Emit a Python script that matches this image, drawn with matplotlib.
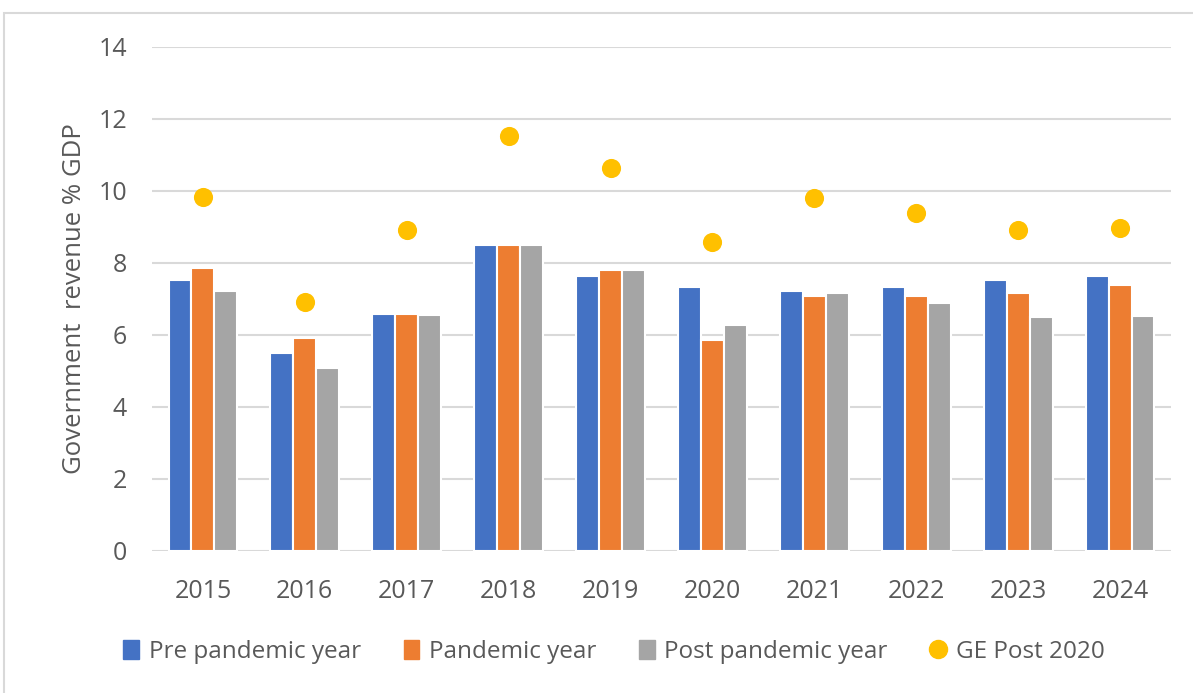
import matplotlib
matplotlib.use("Agg")
import matplotlib.pyplot as plt
import matplotlib.patches as mpatches
from matplotlib.lines import Line2D
import numpy as np

# data
years = ['2015', '2016', '2017', '2018', '2019', '2020', '2021', '2022', '2023', '2024']
pre_pandemic = [7.53, 5.49, 6.59, 8.49, 7.65, 7.34, 7.22, 7.34, 7.52, 7.65]
pandemic = [7.85, 5.92, 6.59, 8.49, 7.81, 5.87, 7.09, 7.09, 7.18, 7.40]
post_pandemic = [7.22, 5.07, 6.55, 8.49, 7.81, 6.29, 7.18, 6.88, 6.50, 6.54]
ge_post_2020 = [9.84, 6.93, 8.92, 11.54, 10.65, 8.57, 9.81, 9.38, 8.92, 8.96]

plt.rcParams['font.family'] = ['Open Sans', 'DejaVu Sans']
text_col = '#595959'
c_blue, c_orange, c_gray, c_yellow = '#4472c4', '#ed7d31', '#a5a5a5', '#ffc000'

fig = plt.figure(figsize=(11.93, 6.93), dpi=100)
ax = fig.add_axes([152 / 1193, 1 - 551 / 693, (1171 - 152) / 1193, 504 / 693])

# light frame around the chart, like the Excel chart area
fig.patches.append(mpatches.Rectangle((4 / 1193, -0.05), 1.1, 1.05 - 13 / 693,
                                      transform=fig.transFigure, fill=False,
                                      edgecolor='#d9d9d9', linewidth=1.5))

x = np.arange(len(years))
w = 0.225
ax.bar(x - w, pre_pandemic, w, color=c_blue, edgecolor='white', linewidth=1.5, zorder=2)
ax.bar(x, pandemic, w, color=c_orange, edgecolor='white', linewidth=1.5, zorder=2)
ax.bar(x + w, post_pandemic, w, color=c_gray, edgecolor='white', linewidth=1.5, zorder=2)
ax.scatter(x, ge_post_2020, s=190, color=c_yellow, zorder=3, linewidths=0)

ax.set_xlim(-0.5, len(years) - 0.5)
ax.set_ylim(0, 14)
ax.set_yticks(range(0, 15, 2))
ax.set_xticks(x)
ax.set_xticklabels(years)
ax.yaxis.grid(True, color='#d9d9d9', linewidth=1.5, zorder=0)
ax.set_axisbelow(True)
for s in ax.spines.values():
    s.set_visible(False)
ax.tick_params(axis='both', length=0, labelsize=18, labelcolor=text_col)
ax.tick_params(axis='y', pad=18)
ax.tick_params(axis='x', pad=20)
ax.set_ylabel('Government  revenue % GDP', fontsize=18.5, color=text_col, labelpad=8)

handles = [
    mpatches.Patch(color=c_blue, label='Pre pandemic year'),
    mpatches.Patch(color=c_orange, label='Pandemic year'),
    mpatches.Patch(color=c_gray, label='Post pandemic year'),
    Line2D([], [], marker='o', linestyle='none', markersize=13, color=c_yellow,
           label='GE Post 2020'),
]
leg = fig.legend(handles=handles, loc='center', bbox_to_anchor=(614 / 1193, 1 - 652 / 693),
                 ncol=4, frameon=False, fontsize=17.5, handlelength=0.65, handleheight=0.8,
                 handletextpad=0.4, columnspacing=1.75)
for t in leg.get_texts():
    t.set_color(text_col)

fig.savefig('out.png', dpi=100)
